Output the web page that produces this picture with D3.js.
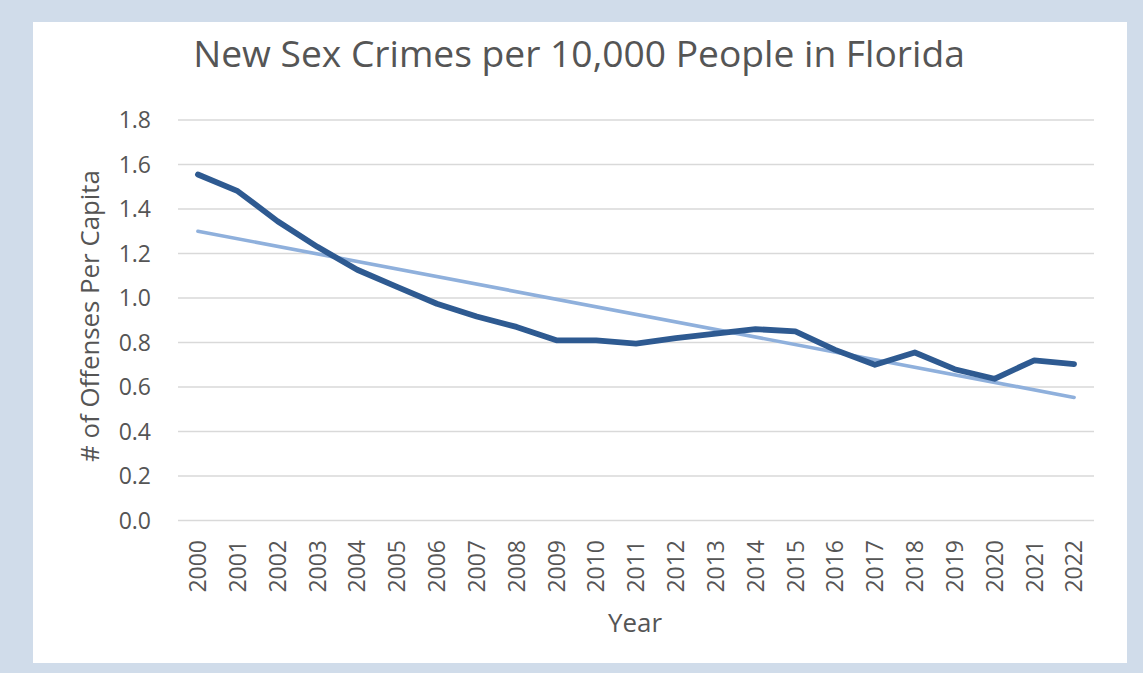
<!DOCTYPE html>
<html>
<head>
<meta charset="utf-8">
<script src="https://cdn.jsdelivr.net/npm/d3@7"></script>
<style>
  html, body { margin: 0; padding: 0; background: #d0dcea; }
  svg { display: block; }
  text { font-family: "Open Sans", "DejaVu Sans", sans-serif; fill: #555555; font-weight: 500; }
</style>
</head>
<body>
<svg id="chart" width="1143" height="673"></svg>
<script>
const years = ["2000","2001","2002","2003","2004","2005","2006","2007","2008","2009","2010","2011","2012","2013","2014","2015","2016","2017","2018","2019","2020","2021","2022"];
const offenses = [1.555,1.48,1.345,1.23,1.127,1.05,0.974,0.917,0.87,0.81,0.81,0.795,0.82,0.84,0.86,0.85,0.767,0.70,0.755,0.68,0.637,0.72,0.703];
const trendYears = ["2000","2022"];
const trendValues = [1.30, 0.553];
const yTicks = [0,0.2,0.4,0.6,0.8,1.0,1.2,1.4,1.6,1.8];
const titleText = "New Sex Crimes per 10,000 People in Florida";
const yLabelText = "# of Offenses Per Capita";
const xLabelText = "Year";

(function () {
const svg = d3.select("#chart");

// white panel
svg.append("rect").attr("x", 33).attr("y", 22).attr("width", 1094).attr("height", 641).attr("fill", "#ffffff");

const plotLeft = 178, plotRight = 1094, plotTop = 120, plotBottom = 520.5;
const x = d3.scaleBand().domain(years).range([plotLeft, plotRight]);
const y = d3.scaleLinear().domain([0, 1.8]).range([plotBottom, plotTop]);

// gridlines
svg.append("g").selectAll("line").data(yTicks).join("line")
  .attr("x1", plotLeft).attr("x2", plotRight)
  .attr("y1", d => y(d)).attr("y2", d => y(d))
  .attr("stroke", "#d9d9d9").attr("stroke-width", 1.6);

// y axis
const yAxis = d3.axisLeft(y).tickValues(yTicks).tickFormat(d3.format(".1f")).tickSize(0).tickPadding(0);
const gy = svg.append("g").attr("transform", `translate(151,0)`).call(yAxis);
gy.select(".domain").remove();
gy.selectAll("text").style("font-size", "23px").attr("fill", "#555555").attr("dy", "0.34em")
  .style("font-family", '"Open Sans", sans-serif').style("font-weight", 500);

// x axis labels
const xAxis = d3.axisBottom(x).tickSize(0).tickPadding(0);
const gx = svg.append("g").attr("transform", `translate(0,540)`).call(xAxis);
gx.select(".domain").remove();
gx.selectAll("text")
  .attr("transform", "rotate(-90)")
  .attr("x", 0).attr("y", 0).attr("dy", "0.36em")
  .attr("text-anchor", "end")
  .style("font-size", "23px").attr("fill", "#555555")
  .style("font-family", '"Open Sans", sans-serif').style("font-weight", 500);

// trend line
const cx = d => x(d) + x.bandwidth() / 2;
svg.append("path")
  .datum(trendYears.map((d, i) => [d, trendValues[i]]))
  .attr("fill", "none").attr("stroke", "#8fb0dc").attr("stroke-width", 3.6)
  .attr("stroke-linecap", "round")
  .attr("d", d3.line().x(d => cx(d[0])).y(d => y(d[1])));

// main line
svg.append("path")
  .datum(years.map((d, i) => [d, offenses[i]]))
  .attr("fill", "none").attr("stroke", "#2e5a91").attr("stroke-width", 5.8)
  .attr("stroke-linejoin", "round").attr("stroke-linecap", "round")
  .attr("d", d3.line().x(d => cx(d[0])).y(d => y(d[1])));

function fit(sel, target) {
  const w = sel.node().getComputedTextLength();
  const fs = parseFloat(sel.style("font-size"));
  sel.style("font-size", (fs * target / w) + "px");
}

// title
const t = svg.append("text").attr("x", 579).attr("y", 67).attr("text-anchor", "middle")
  .style("font-size", "32px").text(titleText);
fit(t, 772);

// y label
const yl = svg.append("text").attr("transform", "translate(90,316) rotate(-90)")
  .attr("text-anchor", "middle").attr("dy", "0.35em").style("font-size", "24px").text(yLabelText);
fit(yl, 292);

// x label
const xl = svg.append("text").attr("x", 635).attr("y", 632).attr("text-anchor", "middle")
  .style("font-size", "24px").text(xLabelText);
fit(xl, 54);
})();
</script>
</body>
</html>
